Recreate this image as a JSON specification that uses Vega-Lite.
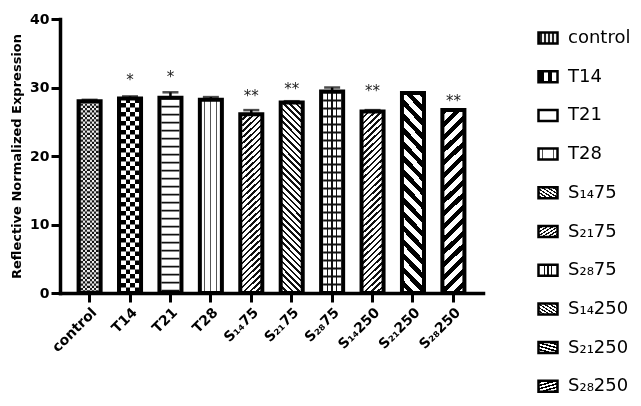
{
  "$schema": "https://vega.github.io/schema/vega-lite/v6.json",
  "width": 423,
  "height": 274,
  "autosize": {"type": "none"},
  "padding": {"left": 60, "top": 19, "right": 158, "bottom": 113},
  "background": "white",
  "params": [
    {
      "name": "fine",
      "value": [
        {"offset": 0, "color": "#111"}, {"offset": 0.012, "color": "#111"}, {"offset": 0.012, "color": "#fff"}, {"offset": 0.03, "color": "#fff"},
        {"offset": 0.03, "color": "#111"}, {"offset": 0.042, "color": "#111"}, {"offset": 0.042, "color": "#fff"}, {"offset": 0.06, "color": "#fff"},
        {"offset": 0.06, "color": "#111"}, {"offset": 0.072, "color": "#111"}, {"offset": 0.072, "color": "#fff"}, {"offset": 0.09, "color": "#fff"},
        {"offset": 0.09, "color": "#111"}, {"offset": 0.102, "color": "#111"}, {"offset": 0.102, "color": "#fff"}, {"offset": 0.12, "color": "#fff"},
        {"offset": 0.12, "color": "#111"}, {"offset": 0.132, "color": "#111"}, {"offset": 0.132, "color": "#fff"}, {"offset": 0.15, "color": "#fff"},
        {"offset": 0.15, "color": "#111"}, {"offset": 0.162, "color": "#111"}, {"offset": 0.162, "color": "#fff"}, {"offset": 0.18, "color": "#fff"},
        {"offset": 0.18, "color": "#111"}, {"offset": 0.192, "color": "#111"}, {"offset": 0.192, "color": "#fff"}, {"offset": 0.21, "color": "#fff"},
        {"offset": 0.21, "color": "#111"}, {"offset": 0.222, "color": "#111"}, {"offset": 0.222, "color": "#fff"}, {"offset": 0.24, "color": "#fff"},
        {"offset": 0.24, "color": "#111"}, {"offset": 0.252, "color": "#111"}, {"offset": 0.252, "color": "#fff"}, {"offset": 0.27, "color": "#fff"},
        {"offset": 0.27, "color": "#111"}, {"offset": 0.282, "color": "#111"}, {"offset": 0.282, "color": "#fff"}, {"offset": 0.3, "color": "#fff"},
        {"offset": 0.3, "color": "#111"}, {"offset": 0.312, "color": "#111"}, {"offset": 0.312, "color": "#fff"}, {"offset": 0.33, "color": "#fff"},
        {"offset": 0.33, "color": "#111"}, {"offset": 0.342, "color": "#111"}, {"offset": 0.342, "color": "#fff"}, {"offset": 0.36, "color": "#fff"},
        {"offset": 0.36, "color": "#111"}, {"offset": 0.372, "color": "#111"}, {"offset": 0.372, "color": "#fff"}, {"offset": 0.39, "color": "#fff"},
        {"offset": 0.39, "color": "#111"}, {"offset": 0.402, "color": "#111"}, {"offset": 0.402, "color": "#fff"}, {"offset": 0.42, "color": "#fff"},
        {"offset": 0.42, "color": "#111"}, {"offset": 0.432, "color": "#111"}, {"offset": 0.432, "color": "#fff"}, {"offset": 0.45, "color": "#fff"},
        {"offset": 0.45, "color": "#111"}, {"offset": 0.462, "color": "#111"}, {"offset": 0.462, "color": "#fff"}, {"offset": 0.48, "color": "#fff"},
        {"offset": 0.48, "color": "#111"}, {"offset": 0.492, "color": "#111"}, {"offset": 0.492, "color": "#fff"}, {"offset": 0.51, "color": "#fff"},
        {"offset": 0.51, "color": "#111"}, {"offset": 0.522, "color": "#111"}, {"offset": 0.522, "color": "#fff"}, {"offset": 0.54, "color": "#fff"},
        {"offset": 0.54, "color": "#111"}, {"offset": 0.552, "color": "#111"}, {"offset": 0.552, "color": "#fff"}, {"offset": 0.57, "color": "#fff"},
        {"offset": 0.57, "color": "#111"}, {"offset": 0.582, "color": "#111"}, {"offset": 0.582, "color": "#fff"}, {"offset": 0.6, "color": "#fff"},
        {"offset": 0.6, "color": "#111"}, {"offset": 0.612, "color": "#111"}, {"offset": 0.612, "color": "#fff"}, {"offset": 0.63, "color": "#fff"},
        {"offset": 0.63, "color": "#111"}, {"offset": 0.642, "color": "#111"}, {"offset": 0.642, "color": "#fff"}, {"offset": 0.66, "color": "#fff"},
        {"offset": 0.66, "color": "#111"}, {"offset": 0.672, "color": "#111"}, {"offset": 0.672, "color": "#fff"}, {"offset": 0.69, "color": "#fff"},
        {"offset": 0.69, "color": "#111"}, {"offset": 0.702, "color": "#111"}, {"offset": 0.702, "color": "#fff"}, {"offset": 0.72, "color": "#fff"},
        {"offset": 0.72, "color": "#111"}, {"offset": 0.732, "color": "#111"}, {"offset": 0.732, "color": "#fff"}, {"offset": 0.75, "color": "#fff"},
        {"offset": 0.75, "color": "#111"}, {"offset": 0.762, "color": "#111"}, {"offset": 0.762, "color": "#fff"}, {"offset": 0.78, "color": "#fff"},
        {"offset": 0.78, "color": "#111"}, {"offset": 0.792, "color": "#111"}, {"offset": 0.792, "color": "#fff"}, {"offset": 0.81, "color": "#fff"},
        {"offset": 0.81, "color": "#111"}, {"offset": 0.822, "color": "#111"}, {"offset": 0.822, "color": "#fff"}, {"offset": 0.84, "color": "#fff"},
        {"offset": 0.84, "color": "#111"}, {"offset": 0.852, "color": "#111"}, {"offset": 0.852, "color": "#fff"}, {"offset": 0.87, "color": "#fff"},
        {"offset": 0.87, "color": "#111"}, {"offset": 0.882, "color": "#111"}, {"offset": 0.882, "color": "#fff"}, {"offset": 0.9, "color": "#fff"},
        {"offset": 0.9, "color": "#111"}, {"offset": 0.912, "color": "#111"}, {"offset": 0.912, "color": "#fff"}, {"offset": 0.93, "color": "#fff"},
        {"offset": 0.93, "color": "#111"}, {"offset": 0.942, "color": "#111"}, {"offset": 0.942, "color": "#fff"}, {"offset": 0.96, "color": "#fff"},
        {"offset": 0.96, "color": "#111"}, {"offset": 0.972, "color": "#111"}, {"offset": 0.972, "color": "#fff"}, {"offset": 0.99, "color": "#fff"},
        {"offset": 0.99, "color": "#111"}, {"offset": 1, "color": "#111"}
      ]
    },
    {
      "name": "coarse",
      "value": [
        {"offset": 0, "color": "#000"}, {"offset": 0.03, "color": "#000"}, {"offset": 0.03, "color": "#fff"}, {"offset": 0.0625, "color": "#fff"},
        {"offset": 0.0625, "color": "#000"}, {"offset": 0.0925, "color": "#000"}, {"offset": 0.0925, "color": "#fff"}, {"offset": 0.125, "color": "#fff"},
        {"offset": 0.125, "color": "#000"}, {"offset": 0.155, "color": "#000"}, {"offset": 0.155, "color": "#fff"}, {"offset": 0.1875, "color": "#fff"},
        {"offset": 0.1875, "color": "#000"}, {"offset": 0.2175, "color": "#000"}, {"offset": 0.2175, "color": "#fff"}, {"offset": 0.25, "color": "#fff"},
        {"offset": 0.25, "color": "#000"}, {"offset": 0.28, "color": "#000"}, {"offset": 0.28, "color": "#fff"}, {"offset": 0.3125, "color": "#fff"},
        {"offset": 0.3125, "color": "#000"}, {"offset": 0.3425, "color": "#000"}, {"offset": 0.3425, "color": "#fff"}, {"offset": 0.375, "color": "#fff"},
        {"offset": 0.375, "color": "#000"}, {"offset": 0.405, "color": "#000"}, {"offset": 0.405, "color": "#fff"}, {"offset": 0.4375, "color": "#fff"},
        {"offset": 0.4375, "color": "#000"}, {"offset": 0.4675, "color": "#000"}, {"offset": 0.4675, "color": "#fff"}, {"offset": 0.5, "color": "#fff"},
        {"offset": 0.5, "color": "#000"}, {"offset": 0.53, "color": "#000"}, {"offset": 0.53, "color": "#fff"}, {"offset": 0.5625, "color": "#fff"},
        {"offset": 0.5625, "color": "#000"}, {"offset": 0.5925, "color": "#000"}, {"offset": 0.5925, "color": "#fff"}, {"offset": 0.625, "color": "#fff"},
        {"offset": 0.625, "color": "#000"}, {"offset": 0.655, "color": "#000"}, {"offset": 0.655, "color": "#fff"}, {"offset": 0.6875, "color": "#fff"},
        {"offset": 0.6875, "color": "#000"}, {"offset": 0.7175, "color": "#000"}, {"offset": 0.7175, "color": "#fff"}, {"offset": 0.75, "color": "#fff"},
        {"offset": 0.75, "color": "#000"}, {"offset": 0.78, "color": "#000"}, {"offset": 0.78, "color": "#fff"}, {"offset": 0.8125, "color": "#fff"},
        {"offset": 0.8125, "color": "#000"}, {"offset": 0.8425, "color": "#000"}, {"offset": 0.8425, "color": "#fff"}, {"offset": 0.875, "color": "#fff"},
        {"offset": 0.875, "color": "#000"}, {"offset": 0.905, "color": "#000"}, {"offset": 0.905, "color": "#fff"}, {"offset": 0.9375, "color": "#fff"},
        {"offset": 0.9375, "color": "#000"}, {"offset": 0.9675, "color": "#000"}, {"offset": 0.9675, "color": "#fff"}, {"offset": 1, "color": "#fff"}
      ]
    }
  ],
  "data": {
    "values": [
      {"group": "control", "mean": 28.0, "upper": 28.2, "sig": "", "sigY": null},
      {"group": "T14", "mean": 28.4, "upper": 28.7, "sig": "*", "sigY": 31.6},
      {"group": "T21", "mean": 28.5, "upper": 29.3, "sig": "*", "sigY": 32.0},
      {"group": "T28", "mean": 28.2, "upper": 28.6, "sig": "", "sigY": null},
      {"group": "S₁₄75", "mean": 26.1, "upper": 26.7, "sig": "**", "sigY": 29.2},
      {"group": "S₂₁75", "mean": 27.8, "upper": 28.0, "sig": "**", "sigY": 30.2},
      {"group": "S₂₈75", "mean": 29.4, "upper": 30.0, "sig": "", "sigY": null},
      {"group": "S₁₄250", "mean": 26.5, "upper": 26.7, "sig": "**", "sigY": 29.9},
      {"group": "S₂₁250", "mean": 29.2, "upper": 29.3, "sig": "", "sigY": null},
      {"group": "S₂₈250", "mean": 26.7, "upper": 26.8, "sig": "**", "sigY": 28.4}
    ]
  },
  "encoding": {
    "x": {
      "field": "group",
      "type": "nominal",
      "sort": null,
      "scale": {"paddingInner": 0.455, "paddingOuter": 0.46},
      "axis": {
        "title": null,
        "labelAngle": -45,
        "labelFont": "DejaVu Sans",
        "labelFontWeight": "bold",
        "labelFontSize": 14,
        "labelColor": "#000",
        "labelPadding": 3,
        "domainColor": "#000",
        "domainWidth": 3.5,
        "domainCap": "square",
        "tickColor": "#000",
        "tickWidth": 3,
        "tickSize": 9
      }
    }
  },
  "layer": [
    {
      "mark": {"type": "bar", "strokeWidth": 0},
      "encoding": {
        "y": {
          "field": "mean",
          "type": "quantitative",
          "scale": {"domain": [0, 40], "nice": false},
          "axis": {
            "title": "Reflective Normalized Expression",
            "values": [0, 10, 20, 30, 40],
            "grid": false,
            "labelFont": "DejaVu Sans",
            "labelFontWeight": "bold",
            "labelFontSize": 14,
            "labelColor": "#000",
            "labelPadding": 2,
            "titleFont": "DejaVu Sans",
            "titleFontWeight": "bold",
            "titleFontSize": 13,
            "titleColor": "#000",
            "titlePadding": 6,
            "domainColor": "#000",
            "domainWidth": 3.5,
            "domainCap": "square",
            "tickColor": "#000",
            "tickWidth": 3,
            "tickSize": 9
          }
        },
        "fill": {
          "field": "group",
          "type": "nominal",
          "sort": null,
          "scale": {
            "domain": ["control", "T14", "T21", "T28", "S₁₄75", "S₂₁75", "S₂₈75", "S₁₄250", "S₂₁250", "S₂₈250"],
            "range": [
              {"expr": "{gradient: 'linear', x1: 0, y1: 0, x2: 1, y2: 0, stops: [{offset: 0, color: '#222'}, {offset: 0.193, color: '#222'}, {offset: 0.193, color: '#eee'}, {offset: 0.295, color: '#eee'}, {offset: 0.295, color: '#222'}, {offset: 0.398, color: '#222'}, {offset: 0.398, color: '#eee'}, {offset: 0.5, color: '#eee'}, {offset: 0.5, color: '#222'}, {offset: 0.602, color: '#222'}, {offset: 0.602, color: '#eee'}, {offset: 0.705, color: '#eee'}, {offset: 0.705, color: '#222'}, {offset: 0.807, color: '#222'}, {offset: 0.807, color: '#eee'}, {offset: 1, color: '#eee'}]}"},
              {"expr": "{gradient: 'linear', x1: 0, y1: 0, x2: 1, y2: 0, stops: [{offset: 0, color: '#000'}, {offset: 0.295, color: '#000'}, {offset: 0.295, color: '#fff'}, {offset: 0.5, color: '#fff'}, {offset: 0.5, color: '#000'}, {offset: 0.705, color: '#000'}, {offset: 0.705, color: '#fff'}, {offset: 1, color: '#fff'}]}"},
              "#ffffff",
              {"expr": "{gradient: 'linear', x1: 0, y1: 0, x2: 1, y2: 0, stops: [{offset: 0, color: '#fff'}, {offset: 0.2, color: '#fff'}, {offset: 0.2, color: '#555'}, {offset: 0.25, color: '#555'}, {offset: 0.25, color: '#fff'}, {offset: 0.475, color: '#fff'}, {offset: 0.475, color: '#555'}, {offset: 0.525, color: '#555'}, {offset: 0.525, color: '#fff'}, {offset: 0.75, color: '#fff'}, {offset: 0.75, color: '#555'}, {offset: 0.8, color: '#555'}, {offset: 0.8, color: '#fff'}, {offset: 1, color: '#fff'}]}"},
              {"expr": "{gradient: 'linear', x1: 0, y1: 0, x2: 0.128, y2: 1.1, stops: fine}"},
              {"expr": "{gradient: 'linear', x1: 1, y1: 0, x2: 0.872, y2: 1.1, stops: fine}"},
              {"expr": "{gradient: 'linear', x1: 0, y1: 0, x2: 1, y2: 0, stops: [{offset: 0, color: '#fff'}, {offset: 0.265, color: '#fff'}, {offset: 0.265, color: '#111'}, {offset: 0.325, color: '#111'}, {offset: 0.325, color: '#fff'}, {offset: 0.47, color: '#fff'}, {offset: 0.47, color: '#111'}, {offset: 0.53, color: '#111'}, {offset: 0.53, color: '#fff'}, {offset: 0.675, color: '#fff'}, {offset: 0.675, color: '#111'}, {offset: 0.735, color: '#111'}, {offset: 0.735, color: '#fff'}, {offset: 1, color: '#fff'}]}"},
              {"expr": "{gradient: 'linear', x1: 0, y1: 0, x2: 0.128, y2: 1.1, stops: fine}"},
              {"expr": "{gradient: 'linear', x1: 1, y1: 0, x2: 0.872, y2: 1.1, stops: coarse}"},
              {"expr": "{gradient: 'linear', x1: 0, y1: 0, x2: 0.128, y2: 1.1, stops: coarse}"}
            ]
          },
          "legend": {
            "title": null,
            "orient": "none",
            "legendX": 477,
            "legendY": 8,
            "padding": 0,
            "symbolType": "M-1,-0.58H1V0.58H-1Z",
            "symbolSize": 361,
            "symbolStrokeColor": "#000",
            "symbolStrokeWidth": 2.5,
            "labelFont": "DejaVu Sans",
            "labelFontSize": 18,
            "labelColor": "#000",
            "labelOffset": 9,
            "rowPadding": 16.7,
            "encode": {
              "symbols": {
                "update": {
                  "stroke": {"value": "#000"},
                  "strokeWidth": {"value": 2.5},
                  "opacity": {"value": 1}
                }
              }
            }
          }
        }
      }
    },
    {
      "transform": [{"filter": "datum.group === 'control'"}],
      "mark": {"type": "rule", "stroke": "#fff", "strokeWidth": 18, "strokeDash": [2.25, 2.25], "blend": "difference"},
      "encoding": {
        "y": {"field": "mean", "type": "quantitative"},
        "y2": {"datum": 0}
      }
    },
    {
      "transform": [{"filter": "datum.group === 'T14'"}],
      "mark": {"type": "rule", "stroke": "#fff", "strokeWidth": 18, "strokeDash": [4.5, 4.5], "blend": "difference"},
      "encoding": {
        "y": {"field": "mean", "type": "quantitative"},
        "y2": {"datum": 0}
      }
    },
    {
      "transform": [{"filter": "datum.group === 'T21' || datum.group === 'S₂₈75'"}],
      "mark": {"type": "rule", "stroke": "#111", "strokeWidth": 18, "strokeDash": [1.8, 6.2]},
      "encoding": {
        "y": {"field": "mean", "type": "quantitative"},
        "y2": {"datum": 0}
      }
    },
    {
      "mark": {"type": "bar", "fillOpacity": 0, "stroke": "#000", "strokeWidth": 4},
      "encoding": {
        "y": {"field": "mean", "type": "quantitative"}
      }
    },
    {
      "mark": {"type": "rule", "color": "#000", "strokeWidth": 2.5},
      "encoding": {
        "y": {"field": "mean", "type": "quantitative"},
        "y2": {"field": "upper"}
      }
    },
    {
      "mark": {"type": "tick", "color": "#000", "size": 16, "thickness": 2.5},
      "encoding": {
        "y": {"field": "upper", "type": "quantitative"}
      }
    },
    {
      "transform": [{"filter": "isValid(datum.sigY)"}],
      "mark": {"type": "text", "font": "DejaVu Sans", "fontSize": 15, "color": "#222", "baseline": "alphabetic", "dy": 8},
      "encoding": {
        "y": {"field": "sigY", "type": "quantitative"},
        "text": {"field": "sig"}
      }
    }
  ],
  "config": {
    "view": {"stroke": null}
  }
}
